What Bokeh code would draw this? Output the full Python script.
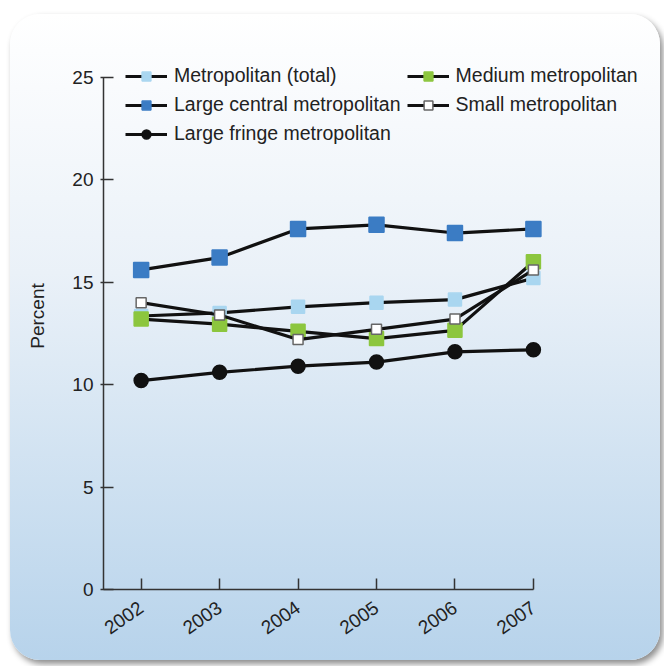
from bokeh.embed import file_html
from bokeh.resources import INLINE
from bokeh.models import Range1d, FixedTicker, Legend, LegendItem
from bokeh.plotting import figure

years = [2002, 2003, 2004, 2005, 2006, 2007]
metro_total = [13.35, 13.5, 13.8, 14.0, 14.15, 15.2]
large_central = [15.6, 16.2, 17.6, 17.8, 17.4, 17.6]
large_fringe = [10.2, 10.6, 10.9, 11.1, 11.6, 11.7]
medium_metro = [13.2, 12.95, 12.6, 12.25, 12.65, 16.0]
small_metro = [14.0, 13.4, 12.2, 12.7, 13.2, 15.6]
y_ticks = [0, 5, 10, 15, 20, 25]

FONT = "Liberation Sans"
TXT = "#222222"

card = {
    "background": "linear-gradient(180deg, #ffffff 0%, #eaf1f8 40%, #b7d3eb 100%)",
    "border-radius": "30px",
    "box-shadow": "3px 4px 6px rgba(0,0,0,0.45)",
    "margin-top": "14px",
    "margin-left": "10px",
}

# frame runs to the card's right edge so the legend is not clipped
p = figure(width=650, height=646, x_range=Range1d(2001.52, 2008.62), y_range=Range1d(0, 26.7),
           output_backend="svg", toolbar_location=None,
           min_border_left=93, min_border_right=0, min_border_top=28, min_border_bottom=71,
           styles=card)
p.background_fill_color = None
p.border_fill_color = None
p.outline_line_color = None
p.grid.visible = False

# axes
p.xaxis.ticker = FixedTicker(ticks=years)
p.xaxis.bounds = (2001.52, 2007)
p.xaxis.major_tick_in = 11
p.xaxis.major_tick_out = 0
p.xaxis.minor_tick_line_color = None
p.xaxis.major_label_orientation = 0.61
p.xaxis.major_label_standoff = 16

p.yaxis.ticker = FixedTicker(ticks=y_ticks)
p.yaxis.bounds = (0, 25)
p.yaxis.major_tick_in = 10
p.yaxis.major_tick_out = 3
p.yaxis.minor_tick_line_color = None
p.yaxis.major_label_standoff = 7
p.yaxis.axis_label = "Percent"
p.yaxis.axis_label_standoff = 21

for ax in (p.xaxis, p.yaxis):
    ax.axis_line_color = "#333333"
    ax.axis_line_width = 1.5
    ax.major_tick_line_color = "#333333"
    ax.major_tick_line_width = 1.5
    ax.major_label_text_font = FONT
    ax.major_label_text_font_size = "19px"
    ax.major_label_text_color = TXT
    ax.axis_label_text_font = FONT
    ax.axis_label_text_font_size = "19px"
    ax.axis_label_text_font_style = "normal"
    ax.axis_label_text_color = TXT

series = [
    ("Metropolitan (total)", metro_total, "square", 13, "#a9d6f0", "#a9d6f0"),
    ("Large central metropolitan", large_central, "square", 15, "#3b7cc4", "#3b7cc4"),
    ("Large fringe metropolitan", large_fringe, "circle", 14, "#111111", "#111111"),
    ("Medium metropolitan", medium_metro, "square", 14, "#8cc63e", "#8cc63e"),
    ("Small metropolitan", small_metro, "square", 10, "#ffffff", "#666666"),
]

items = []
for label, vals, marker, size, fill, edge in series:
    ln = p.line(years, vals, line_color="#111111", line_width=3.2)
    sc = p.scatter(years, vals, marker=marker, size=size, fill_color=fill, line_color=edge, line_width=1.5)
    items.append(LegendItem(label=label, renderers=[ln, sc]))

legend = Legend(items=items, orientation="vertical", nrows=3, location="top_left")
legend.margin = 12
legend.padding = 10
legend.spacing = 6
legend.glyph_height = 22
legend.label_height = 22
legend.glyph_width = 42
legend.label_standoff = 7
legend.background_fill_alpha = 0
legend.border_line_alpha = 0
legend.label_text_font = FONT
legend.label_text_font_size = "19.5px"
legend.label_text_color = TXT
p.add_layout(legend)

open("out.html", "w").write(file_html(p, INLINE))
